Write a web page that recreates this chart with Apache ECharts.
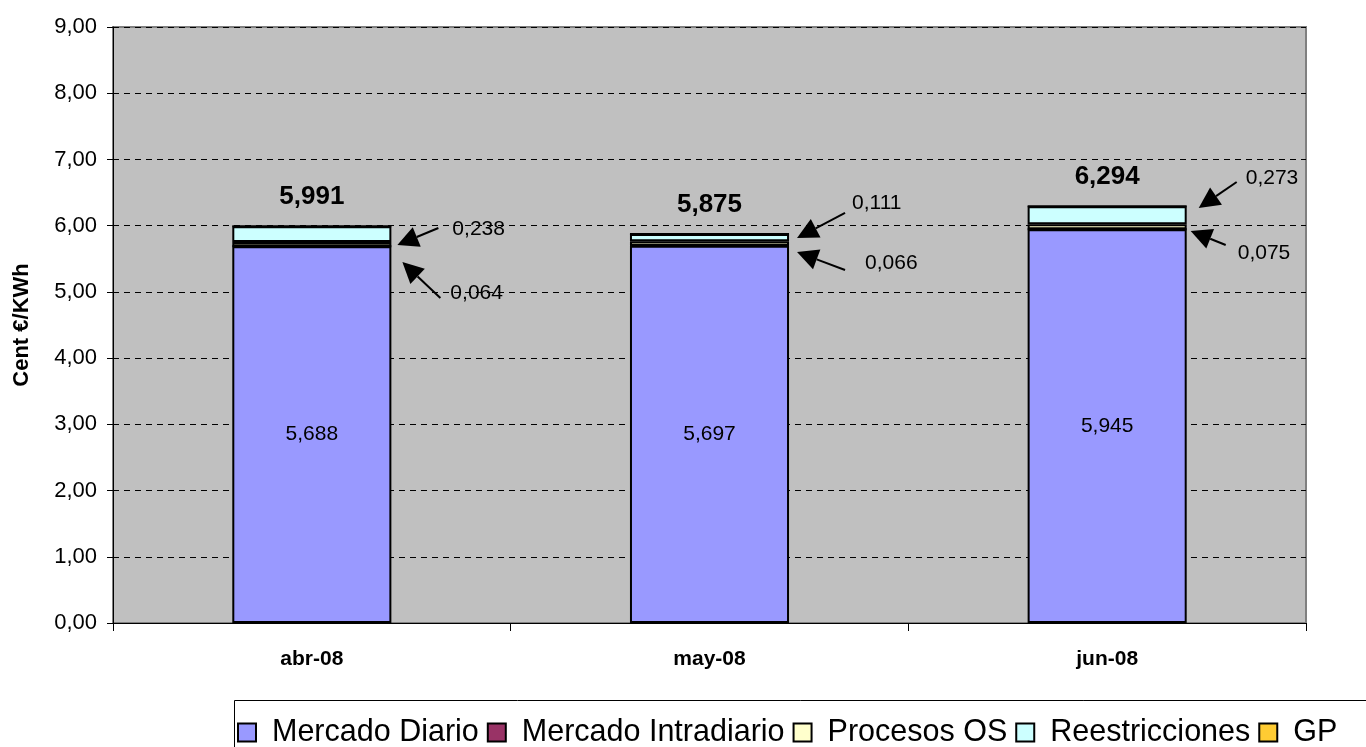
<!DOCTYPE html>
<html><head><meta charset="utf-8">
<script src="https://cdn.jsdelivr.net/npm/echarts@6/dist/echarts.min.js"></script>
<style>html,body{margin:0;padding:0;background:#fff}#c{width:1366px;height:747px}</style>
</head><body><div id="c"></div>
<script>
// ---- data ----
const categories = ['abr-08', 'may-08', 'jun-08'];
const mercadoDiario = [5.688, 5.697, 5.945];
const mercadoIntradiario = [0.001, 0.001, 0.001];
const procesosOS = [0.064, 0.066, 0.075];
const reestricciones = [0.238, 0.111, 0.273];
const gp = [0, 0, 0];
const totals = ['5,991', '5,875', '6,294'];
const yTicks = [0, 1, 2, 3, 4, 5, 6, 7, 8, 9];
// annotation labels (arrows)
const annotCats = [0, 0, 1, 1, 2, 2];
const annotLabels = ['0,238', '0,064', '0,111', '0,066', '0,273', '0,075'];
const annotTipValues = [5.708, 5.452, 5.814, 5.603, 6.267, 5.920];

// ---- layout (pixel offsets for annotations) ----
const annotLayout = [
  {tipDx: 6, tailDx: 47, tailDy: -17, labelDx: 61, labelDy: -16},
  {tipDx: 11, tailDx: 49, tailDy: 36, labelDx: 59, labelDy: 31},
  {tipDx: 8, tailDx: 56, tailDy: -25, labelDx: 63, labelDy: -35},
  {tipDx: 8, tailDx: 56, tailDy: 18, labelDx: 76, labelDy: 11},
  {tipDx: 12, tailDx: 50, tailDy: -26, labelDx: 59, labelDy: -30},
  {tipDx: 4, tailDx: 39, tailDy: 14, labelDx: 51, labelDy: 22}
];

const FONT = 'Arial, "Liberation Sans", sans-serif';
const fmt = v => v.toFixed(3).replace('.', ',');
const chart = echarts.init(document.getElementById('c'));

function mkSeries(name, data, color, extra) {
  return Object.assign({
    name: name, type: 'bar', stack: 't', data: data, barWidth: '40%',
    itemStyle: {color: color, borderColor: '#000', borderWidth: 2},
    emphasis: {disabled: true}, animation: false
  }, extra || {});
}

chart.setOption({
  backgroundColor: '#fff',
  animation: false,
  grid: {left: 113, top: 27, right: 60, bottom: 124, show: true,
         backgroundColor: '#C0C0C0', borderColor: '#808080', borderWidth: 2},
  xAxis: {
    type: 'category', data: categories,
    axisLine: {lineStyle: {color: '#000', width: 1}},
    axisTick: {show: true, length: 8, lineStyle: {color: '#000'}},
    axisLabel: {margin: 26, fontFamily: FONT, fontSize: 21, fontWeight: 'bold', color: '#000'}
  },
  yAxis: {
    type: 'value', min: yTicks[0], max: yTicks[yTicks.length - 1], interval: 1,
    name: 'Cent €/KWh', nameLocation: 'middle', nameGap: 80,
    nameTextStyle: {fontFamily: FONT, fontSize: 22, fontWeight: 'bold', color: '#000'},
    axisLine: {show: true, lineStyle: {color: '#000', width: 1}},
    axisTick: {show: true, length: 6, lineStyle: {color: '#000'}},
    axisLabel: {margin: 16, fontFamily: FONT, fontSize: 22, color: '#000',
                formatter: v => v.toFixed(2).replace('.', ',')},
    splitLine: {show: true, lineStyle: {color: '#000', type: [6, 5], width: 1}}
  },
  legend: {
    left: 232, top: 712, width: 1300, itemWidth: 18, itemHeight: 18, itemGap: 8,
    icon: 'rect',
    textStyle: {fontFamily: FONT, fontSize: 30.5, color: '#000', padding: [0, 0, 0, 11]},
    selectedMode: false
  },
  series: [
    mkSeries('Mercado Diario', mercadoDiario, '#9999FF', {
      label: {show: true, position: 'inside', fontFamily: FONT, fontSize: 21, color: '#000',
              formatter: p => fmt(p.value)}
    }),
    mkSeries('Mercado Intradiario', mercadoIntradiario, '#993366'),
    mkSeries('Procesos OS', procesosOS, '#FFFFCC'),
    mkSeries('Reestricciones', reestricciones, '#CCFFFF'),
    mkSeries('GP', gp, '#FFCC33', {
      label: {show: true, position: 'top', distance: 15, fontFamily: FONT, fontSize: 26,
              fontWeight: 'bold', color: '#000', formatter: p => totals[p.dataIndex]}
    })
  ]
});

// ---- arrow annotations placed through the chart's own scales ----
const g = [{
  type: 'rect', z: -10, silent: true,
  shape: {x: 234.5, y: 700.5, width: 1200, height: 60},
  style: {fill: '#fff', stroke: '#000', lineWidth: 1}
}];
const c0 = chart.convertToPixel({xAxisIndex: 0, yAxisIndex: 0}, [0, 0]);
const c1 = chart.convertToPixel({xAxisIndex: 0, yAxisIndex: 0}, [1, 0]);
const halfBar = (c1[0] - c0[0]) * 0.4 / 2;
annotCats.forEach((ci, i) => {
  const L = annotLayout[i];
  const p = chart.convertToPixel({xAxisIndex: 0, yAxisIndex: 0}, [ci, annotTipValues[i]]);
  const edge = p[0] + halfBar;
  const tip = [edge + L.tipDx, p[1]];
  const tail = [edge + L.tailDx, p[1] + L.tailDy];
  const dx = tip[0] - tail[0], dy = tip[1] - tail[1];
  const len = Math.sqrt(dx * dx + dy * dy);
  const ux = dx / len, uy = dy / len;
  const hl = 21, hw = 10.5;
  const base = [tip[0] - ux * hl, tip[1] - uy * hl];
  g.push({type: 'line', silent: true, z: 100,
          shape: {x1: tail[0], y1: tail[1], x2: base[0], y2: base[1]},
          style: {stroke: '#000', lineWidth: 2}});
  g.push({type: 'polygon', silent: true, z: 100,
          shape: {points: [tip, [base[0] - uy * hw, base[1] + ux * hw], [base[0] + uy * hw, base[1] - ux * hw]]},
          style: {fill: '#000'}});
  g.push({type: 'text', silent: true, z: 100,
          x: edge + L.labelDx, y: p[1] + L.labelDy,
          style: {text: annotLabels[i], font: '21px ' + FONT, fill: '#000',
                  textAlign: 'left', textVerticalAlign: 'middle'}});
});
chart.setOption({graphic: g});
</script>
</body></html>
